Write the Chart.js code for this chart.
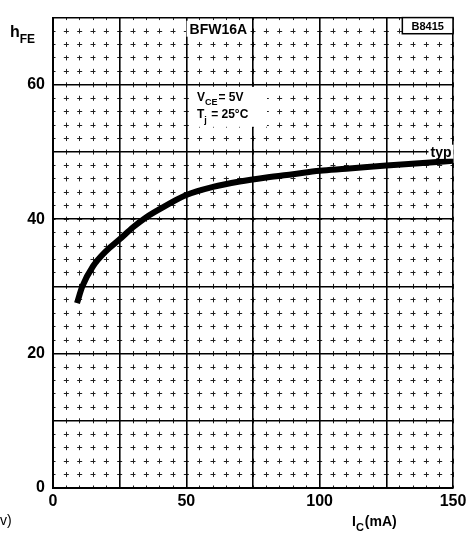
<!DOCTYPE html>
<html>
<head>
<meta charset="utf-8">
<script src="https://cdn.jsdelivr.net/npm/chart.js@4.4.1/dist/chart.umd.min.js"></script>
<style>
html,body{margin:0;padding:0;background:#fff}
#wrap{width:475px;height:539px;position:relative}
</style>
</head>
<body>
<div id="wrap"><canvas id="chart"></canvas></div>
<script>
// collector current (mA) and typical hFE
const icValues = [9, 11, 15, 20, 25, 30, 35, 40, 50, 60, 70, 80, 90, 100, 110, 125, 140, 150];
const hfeTyp = [27.5, 30, 33, 35.3, 37, 38.8, 40.3, 41.5, 43.6, 44.8, 45.6, 46.2, 46.7, 47.2, 47.5, 48, 48.4, 48.7];
const xTickLabels = [0, 50, 100, 150];
const yTickLabels = [0, 20, 40, 60];

const FONT = "'Liberation Sans', 'DejaVu Sans', sans-serif";

// text with a subscript part, left aligned at px,py (baseline)
function subText(ctx, main, sub, rest, px, py, size){
  ctx.font = "bold " + size + "px " + FONT;
  ctx.fillText(main, px, py);
  let w = ctx.measureText(main).width;
  ctx.font = "bold " + Math.round(size*0.75) + "px " + FONT;
  ctx.fillText(sub, px + w, py + size*0.35);
  w += ctx.measureText(sub).width;
  ctx.font = "bold " + size + "px " + FONT;
  if(rest) ctx.fillText(rest, px + w + 1, py);
}

// minor grid drawn as short dashes centred on each crossing
const minorDash = {
  id: "minorDash",
  afterLayout(chart){
    const a = chart.chartArea;
    const ph = (a.bottom - a.top) / 35;
    const pw = (a.right - a.left) / 30;
    chart.scales.x2.options.border.dash = [5, ph - 5];
    chart.scales.x2.options.border.dashOffset = 2.5;
    chart.scales.y2.options.border.dash = [5, pw - 5];
    chart.scales.y2.options.border.dashOffset = 2.5;
  }
};

const notes = {
  id: "notes",
  afterDraw(chart){
    const ctx = chart.ctx;
    const x = chart.scales.x, y = chart.scales.y;
    ctx.save();
    ctx.fillStyle = "#000";
    ctx.textBaseline = "alphabetic";

    // type name
    ctx.font = "bold 14px " + FONT;
    ctx.textAlign = "center";
    let px = x.getPixelForValue(62), py = y.getPixelForValue(67.6);
    let w = ctx.measureText("BFW16A").width;
    ctx.fillStyle = "#fff";
    ctx.fillRect(px - w/2 - 3, py - 13, w + 6, 16);
    ctx.fillStyle = "#000";
    ctx.fillText("BFW16A", px, py);

    // drawing number box
    let bx1 = x.getPixelForValue(131), by1 = y.getPixelForValue(70);
    let bx2 = x.getPixelForValue(150), by2 = y.getPixelForValue(67.6);
    ctx.fillStyle = "#fff";
    ctx.fillRect(bx1, by1, bx2 - bx1, by2 - by1);
    ctx.strokeStyle = "#000";
    ctx.lineWidth = 1.5;
    ctx.strokeRect(bx1, by1, bx2 - bx1, by2 - by1);
    ctx.fillStyle = "#000";
    ctx.font = "bold 11px " + FONT;
    ctx.fillText("B8415", (bx1 + bx2)/2, by2 - 4);

    // conditions
    ctx.textAlign = "left";
    px = x.getPixelForValue(54);
    ctx.fillStyle = "#fff";
    ctx.fillRect(px - 4, y.getPixelForValue(59.7), 74, 40);
    ctx.fillStyle = "#000";
    subText(ctx, "V", "CE", "= 5V", px, y.getPixelForValue(57.6), 12);
    subText(ctx, "T", "j", " = 25\u00b0C", px, y.getPixelForValue(55), 12);

    // typ label
    ctx.textAlign = "center";
    ctx.font = "bold 14px " + FONT;
    px = x.getPixelForValue(145.5); py = y.getPixelForValue(49.3);
    w = ctx.measureText("typ").width;
    ctx.fillStyle = "#fff";
    ctx.fillRect(px - w/2 - 2, py - 12, w + 4, 14);
    ctx.fillStyle = "#000";
    ctx.fillText("typ", px, py);

    // axis titles
    ctx.textAlign = "left";
    subText(ctx, "h", "FE", "", 10, 37, 16);
    subText(ctx, "I", "C", "(mA)", 352, 526, 14);
    ctx.font = "14px " + FONT;
    ctx.fillText("v)", 0, 525);
    ctx.restore();
  }
};

new Chart(document.getElementById("chart"), {
  type: "line",
  data: {
    datasets: [{
      label: "typ",
      data: icValues.map((v, i) => ({x: v, y: hfeTyp[i]})),
      borderColor: "#000",
      borderWidth: 6,
      pointRadius: 0,
      fill: false,
      cubicInterpolationMode: "monotone",
      xAxisID: "x",
      yAxisID: "y"
    }]
  },
  options: {
    responsive: true,
    maintainAspectRatio: false,
    animation: false,
    layout: {padding: {left: 0, right: 22, top: 13, bottom: 0}},
    plugins: {legend: {display: false}, tooltip: {enabled: false}},
    scales: {
      x2: {
        type: "linear", position: "bottom", min: 0, max: 150,
        ticks: {display: false, stepSize: 5},
        grid: {color: "#222", lineWidth: 1, drawTicks: false},
        border: {display: false, dash: [5, 8.57], dashOffset: 2.5},
        afterFit: s => { s.height = 0; }
      },
      y2: {
        type: "linear", position: "left", min: 0, max: 70,
        ticks: {display: false, stepSize: 2},
        grid: {color: "#222", lineWidth: 1, drawTicks: false},
        border: {display: false, dash: [5, 8.33], dashOffset: 2.5},
        afterFit: s => { s.width = 0; }
      },
      x: {
        type: "linear", position: "bottom", min: 0, max: 150,
        ticks: {
          stepSize: 25, color: "#000", padding: 4,
          font: {family: FONT, size: 16, weight: "bold"},
          callback: v => xTickLabels.includes(v) ? String(v) : ""
        },
        grid: {color: "#000", lineWidth: 1.6, drawTicks: false},
        border: {display: true, color: "#000", width: 2},
        afterFit: s => { s.height = 51; }
      },
      y: {
        type: "linear", position: "left", min: 0, max: 70,
        ticks: {
          stepSize: 10, color: "#000", padding: 8,
          font: {family: FONT, size: 16, weight: "bold"},
          callback: v => yTickLabels.includes(v) ? String(v) : ""
        },
        grid: {color: "#000", lineWidth: 1.6, drawTicks: false},
        border: {display: true, color: "#000", width: 2},
        afterFit: s => { s.width = 53; }
      }
    }
  },
  plugins: [minorDash, notes]
});
</script>
</body>
</html>
